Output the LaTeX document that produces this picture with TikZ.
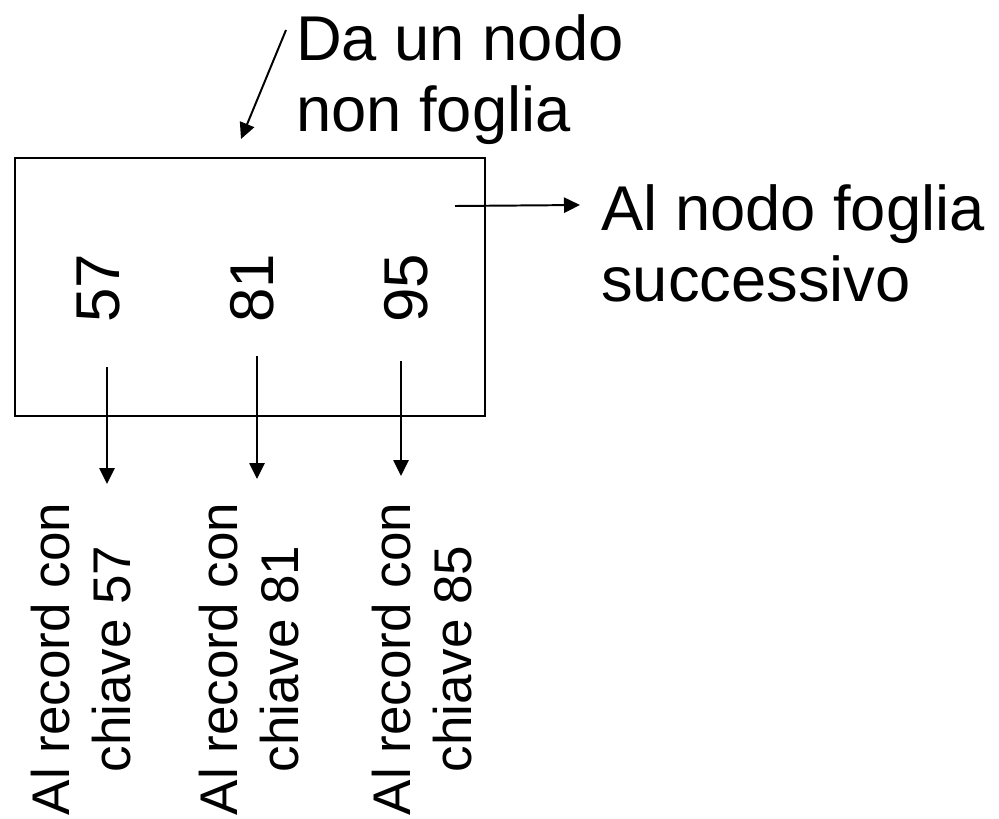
\documentclass[tikz,border=0pt]{standalone}
\usepackage{fontspec}
\setmainfont{Liberation Sans}
\usetikzlibrary{arrows.meta}

\begin{document}
\begin{tikzpicture}[x=0.025cm,y=-0.025cm,
  ptr/.style={draw,line width=1.4pt,-{Triangle[length=0.4cm,width=0.38cm]}},
  big/.style={font=\fontsize{45}{51}\selectfont,inner sep=0pt},
  key/.style={font=\fontsize{44}{50}\selectfont,inner sep=0pt,rotate=90},
  rec/.style={font=\fontsize{37.7}{43.4}\selectfont,inner sep=0pt,rotate=90,align=center}]
\useasboundingbox (0,0) rectangle (999,818);

\node[draw,line width=1.4pt,minimum width=11.75cm,minimum height=6.45cm,inner sep=0pt] (nodo) at (250,287) {};

\node[key] (k57) at (99,288) {57};
\node[key] (k81) at (252,288) {81};
\node[key] (k95) at (406,288) {95};

\node[big,align=left,anchor=north west] (da) at (296,14) {Da un nodo\\non foglia};
\node[big,align=left,anchor=north west] (al) at (601,184) {Al nodo foglia\\successivo};

\node[rec] (r57) at (81,659) {Al record con\\chiave 57};
\node[rec] (r81) at (249,659) {Al record con\\chiave 81};
\node[rec] (r85) at (422,659) {Al record con\\chiave 85};

\coordinate (in) at (286,30);
\coordinate (inend) at (241,139);
\coordinate (nx) at (455,206);
\coordinate (nxend) at (580,205);
\coordinate (p57) at (107,367);
\coordinate (e57) at (107,484);
\coordinate (p81) at (257,356);
\coordinate (e81) at (257,479);
\coordinate (p95) at (401,361);
\coordinate (e95) at (401,476);

\path[ptr] (in) -- (inend);
\path[ptr] (nx) -- (nxend);
\path[ptr] (p57) -- (e57);
\path[ptr] (p81) -- (e81);
\path[ptr] (p95) -- (e95);
\end{tikzpicture}
\end{document}
